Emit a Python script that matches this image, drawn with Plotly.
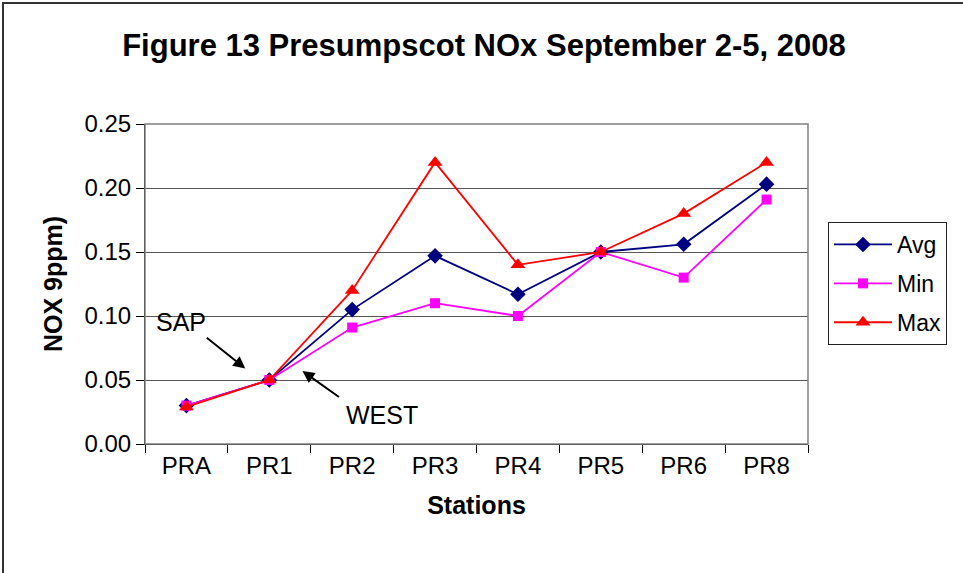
import plotly.graph_objects as go

stations = ["PRA", "PR1", "PR2", "PR3", "PR4", "PR5", "PR6", "PR8"]
avg = [0.030, 0.050, 0.105, 0.147, 0.117, 0.150, 0.156, 0.203]
mins = [0.030, 0.050, 0.091, 0.110, 0.100, 0.150, 0.130, 0.191]
maxs = [0.029, 0.050, 0.120, 0.220, 0.140, 0.150, 0.180, 0.220]

FONT = "Liberation Sans, Arial, sans-serif"

# plot area in pixels: left 145, right 808, top 124, bottom 444
W, H = 963, 573
L, R, T, B = 145, 808, 124, 444


def px(x):
    return (x - L) / (R - L)


def py(y):
    return (B - y) / (B - T)


fig = go.Figure()
series = [
    ("Avg", avg, "#000080", "diamond", 12),
    ("Min", mins, "#FF00FF", "square", 10),
    ("Max", maxs, "#FF0000", "triangle-up", 13),
]
for name, vals, col, sym, size in series:
    fig.add_trace(go.Scatter(
        x=stations, y=vals, name=name, legendgroup=name,
        mode="lines+markers",
        line=dict(color=col, width=1.8),
        marker=dict(symbol=sym, size=size, color=col),
    ))

# outer chart frame (only top/left edges fall inside the picture)
fig.add_shape(type="rect", xref="paper", yref="paper",
              x0=px(3), x1=px(975), y0=py(590), y1=py(3),
              line=dict(color="#333333", width=2))
# plot-area frame
fig.add_shape(type="rect", xref="paper", yref="paper",
              x0=0, x1=1, y0=0, y1=1,
              line=dict(color="#808080", width=1.5))

# station labels with arrows
fig.add_annotation(x=0.71, y=0.059, ax=-40, ay=-32, text="",
                   showarrow=True, arrowhead=2, arrowsize=1.2,
                   arrowwidth=2, arrowcolor="black")
fig.add_annotation(x=1.40, y=0.057, ax=38, ay=27, text="",
                   showarrow=True, arrowhead=2, arrowsize=1.2,
                   arrowwidth=2, arrowcolor="black")
fig.add_annotation(x=-0.07, y=0.095, text="SAP", showarrow=False,
                   font=dict(size=25, color="black", family=FONT))
fig.add_annotation(x=2.36, y=0.023, text="WEST", showarrow=False,
                   font=dict(size=25, color="black", family=FONT))

fig.update_layout(
    width=W, height=H,
    margin=dict(l=L, r=W - R, t=T, b=H - B),
    paper_bgcolor="white", plot_bgcolor="white",
    font=dict(family=FONT, color="black", size=24),
    title=dict(text="<b>Figure 13 Presumpscot NOx September 2-5, 2008</b>",
               x=px(484), xanchor="center", xref="paper",
               y=1 - 45 / H, yanchor="middle",
               font=dict(size=31)),
    showlegend=True,
    legend=dict(x=px(828), y=py(222), xanchor="left", yanchor="top",
                bordercolor="#222222", borderwidth=1, bgcolor="white",
                font=dict(size=23), tracegroupgap=6, itemwidth=58),
)
fig.update_xaxes(
    type="category", range=[-0.5, 7.5], showgrid=False,
    showline=True, linecolor="black", linewidth=1,
    ticks="outside", tickson="boundaries", ticklen=8, tickcolor="black",
    title=dict(text="<b>Stations</b>", font=dict(size=25), standoff=18),
)
fig.update_yaxes(
    range=[0, 0.25], dtick=0.05, tickformat=".2f",
    showgrid=True, gridcolor="#555555", gridwidth=1,
    showline=True, linecolor="black", linewidth=1,
    ticks="outside", ticklen=8, tickcolor="black", zeroline=False,
    title=dict(text="<b>NOX 9ppm)</b>", font=dict(size=25), standoff=14),
)

fig.write_html("out.html", config={"displayModeBar": False},
               post_script="document.body.style.margin='0';")
